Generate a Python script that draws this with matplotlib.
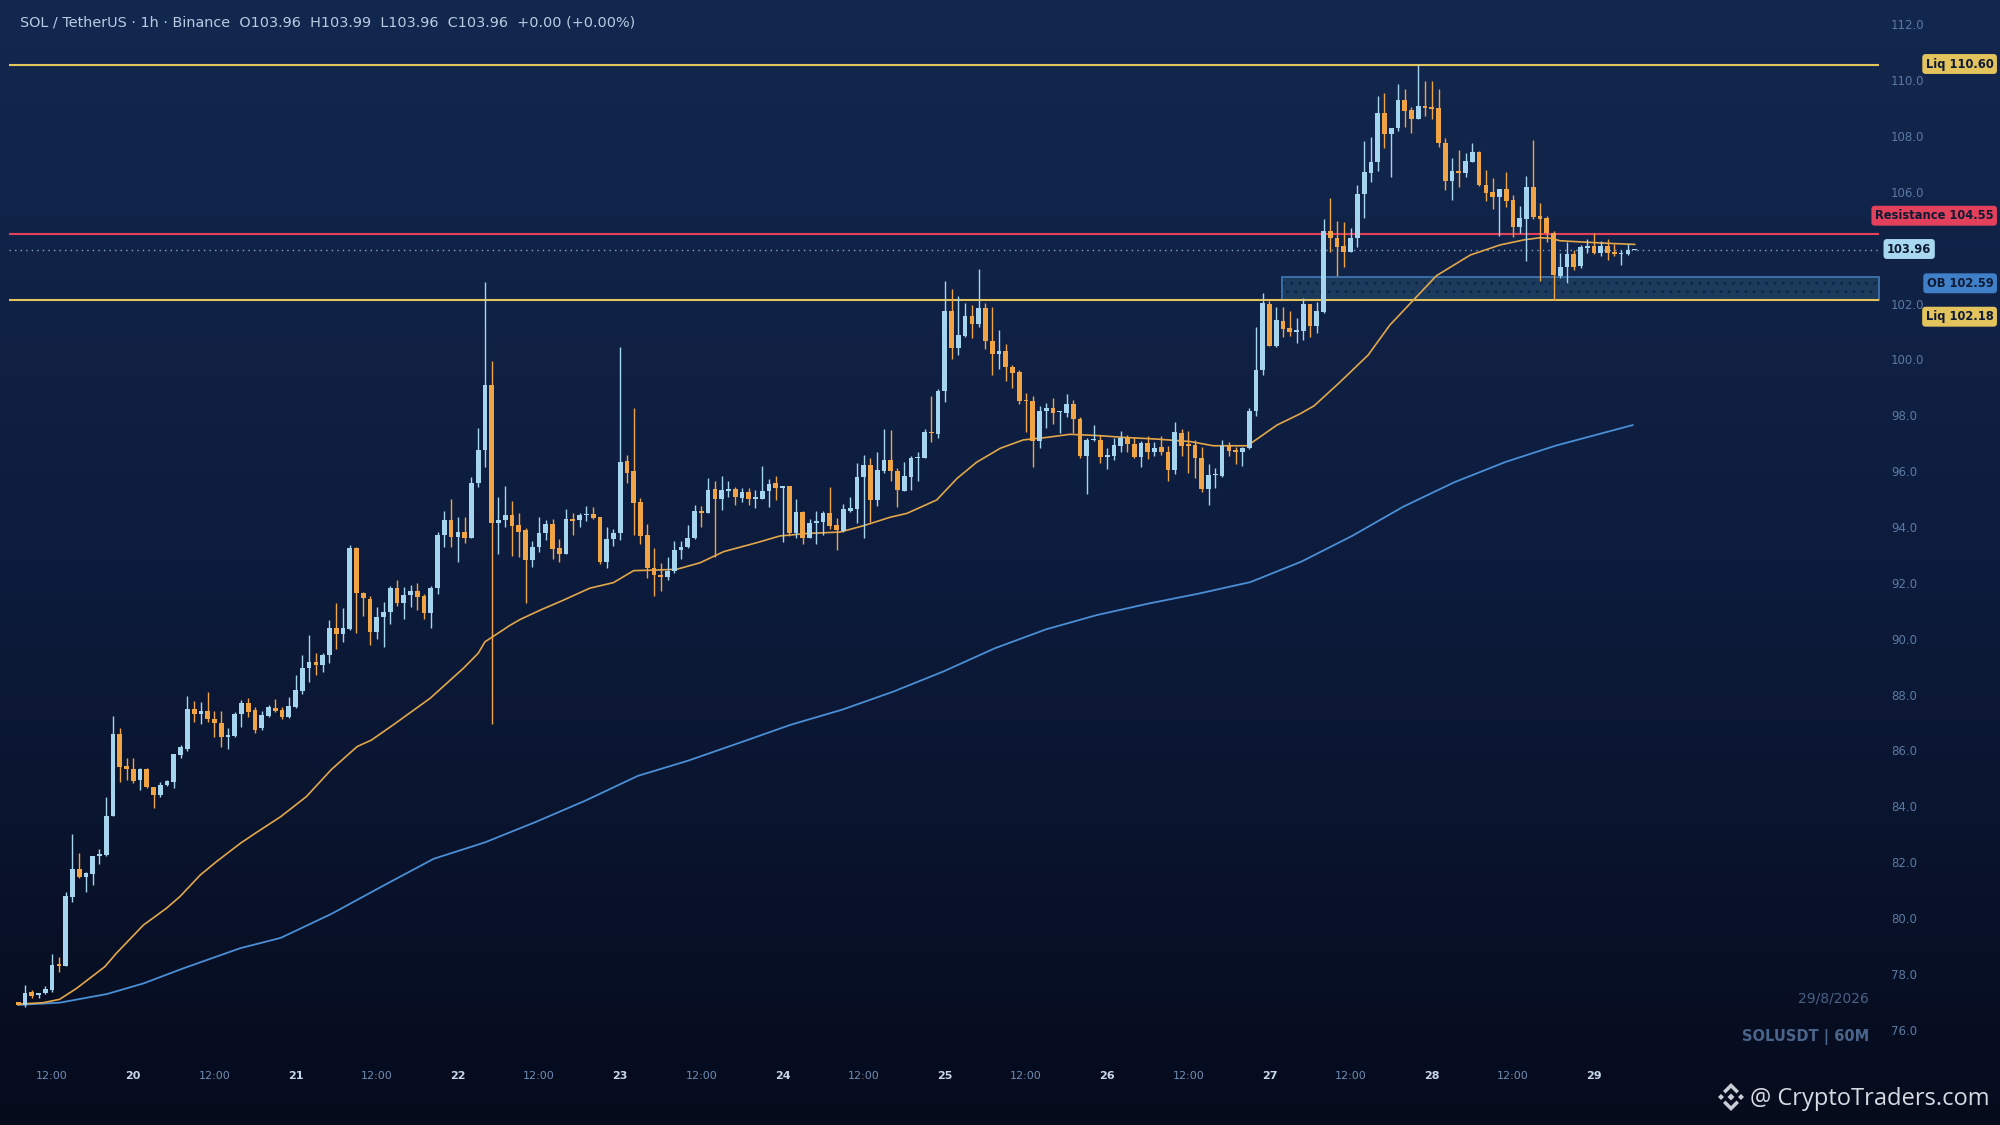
import matplotlib
matplotlib.use("Agg")
import matplotlib.pyplot as plt
from matplotlib.colors import LinearSegmentedColormap
from matplotlib.patches import Rectangle, Polygon
import numpy as np

# ---- data (hourly candles, 19th 07:00 -> 29th 06:00) ----
opens = [77.05, 76.94, 77.40, 77.29, 77.36, 77.48, 78.41, 78.35, 80.82, 81.79,
         81.53, 81.61, 82.27, 82.32, 83.70, 86.64, 85.49, 85.37, 84.99, 85.37,
         84.75, 84.45, 84.81, 84.93, 85.90, 86.12, 87.53, 87.34, 87.46, 87.17,
         87.05, 86.54, 86.58, 87.35, 87.74, 87.50, 86.84, 87.28, 87.56, 87.50,
         87.24, 87.62, 88.19, 88.99, 89.23, 89.11, 89.47, 90.42, 90.22, 90.40,
         93.29, 91.68, 91.46, 90.30, 90.84, 91.02, 91.85, 91.34, 91.62, 91.77,
         91.58, 90.96, 91.85, 93.76, 94.30, 93.70, 93.88, 93.67, 95.64, 96.81,
         99.13, 94.20, 94.32, 94.48, 94.12, 93.94, 92.87, 93.32, 93.83, 94.16,
         93.29, 93.07, 94.33, 94.30, 94.48, 94.50, 94.40, 92.81, 93.61, 93.83,
         96.42, 96.06, 94.93, 93.77, 92.57, 92.33, 92.25, 92.49, 93.23, 93.32,
         93.65, 94.62, 94.56, 95.40, 95.05, 95.35, 95.41, 95.10, 95.29, 95.07,
         95.07, 95.35, 95.62, 95.44, 95.53, 93.85, 94.58, 93.65, 94.18, 94.24,
         94.54, 94.12, 93.91, 94.64, 94.68, 95.83, 96.27, 95.02, 96.07, 96.45,
         96.06, 95.34, 95.85, 96.53, 96.51, 97.44, 97.38, 98.93, 101.78, 100.47,
         100.90, 101.61, 101.31, 101.88, 100.72, 100.23, 100.36, 99.77, 99.59, 98.60,
         98.56, 97.13, 98.20, 98.32, 98.17, 98.15, 98.44, 97.91, 96.60, 97.17,
         97.17, 96.55, 96.60, 96.96, 97.23, 97.01, 96.57, 97.05, 96.75, 96.90,
         96.75, 96.09, 97.40, 97.02, 96.99, 96.51, 95.40, 95.91, 95.89, 96.95,
         96.81, 96.75, 96.87, 98.20, 99.67, 102.04, 100.54, 101.43, 101.16, 101.05,
         101.07, 102.02, 101.26, 101.76, 104.65, 104.39, 104.11, 103.91, 104.39, 105.98,
         106.71, 107.13, 108.86, 108.11, 108.33, 109.34, 108.98, 108.66, 109.13, 109.08,
         109.04, 107.79, 106.45, 106.80, 106.71, 107.13, 107.47, 106.30, 106.03, 105.88,
         106.14, 105.76, 104.81, 105.07, 106.24, 105.19, 105.10, 104.59, 103.04, 103.35,
         103.81, 103.40, 104.04, 104.11, 103.87, 104.11, 103.90, 103.81, 103.81, 103.96]
highs = [77.05, 77.65, 77.48, 77.37, 77.62, 78.75, 78.64, 80.97, 83.05, 82.37,
         81.71, 82.27, 82.51, 84.39, 87.29, 86.84, 85.77, 85.77, 85.41, 85.44,
         84.75, 84.93, 85.01, 85.92, 86.24, 88.00, 87.82, 87.79, 88.13, 87.47,
         87.47, 86.84, 87.44, 87.86, 87.92, 87.62, 87.47, 87.68, 87.88, 87.59,
         87.97, 88.75, 89.47, 90.18, 89.55, 89.53, 90.72, 91.32, 91.14, 93.41,
         93.32, 91.73, 91.58, 91.17, 91.38, 91.94, 92.17, 91.91, 91.97, 92.06,
         91.67, 91.94, 93.88, 94.63, 95.04, 94.42, 94.42, 95.85, 97.61, 102.83,
         100.00, 95.14, 95.52, 94.99, 94.56, 94.00, 93.56, 94.40, 94.30, 94.33,
         93.61, 94.68, 94.56, 94.56, 94.81, 94.78, 94.40, 94.04, 93.98, 100.50,
         96.63, 98.30, 95.08, 94.15, 93.31, 92.77, 92.99, 93.56, 93.56, 94.12,
         94.84, 94.82, 95.82, 95.70, 95.89, 95.71, 95.50, 95.46, 95.46, 95.38,
         96.25, 95.76, 95.89, 95.53, 95.53, 95.04, 94.64, 94.34, 94.62, 94.64,
         95.47, 94.36, 94.87, 95.14, 96.33, 96.63, 96.51, 96.72, 97.56, 97.52,
         96.15, 96.39, 96.60, 96.72, 97.55, 98.74, 98.98, 102.86, 102.57, 102.33,
         102.08, 102.00, 103.28, 102.06, 101.94, 101.10, 100.60, 99.85, 99.67, 98.84,
         98.74, 98.40, 98.48, 98.66, 98.20, 98.80, 98.60, 98.00, 97.23, 97.70,
         97.35, 96.89, 97.23, 97.50, 97.35, 97.29, 97.14, 97.32, 97.08, 97.32,
         96.95, 97.82, 97.56, 97.50, 97.17, 96.93, 96.30, 96.15, 97.17, 97.11,
         96.93, 96.93, 98.30, 101.22, 102.42, 102.16, 101.92, 101.94, 101.80, 101.52,
         102.26, 102.02, 102.10, 105.08, 105.84, 105.02, 104.98, 104.75, 106.30, 107.87,
         108.00, 109.49, 109.58, 108.33, 109.90, 109.72, 109.08, 110.59, 110.03, 110.03,
         109.72, 107.97, 107.27, 107.55, 107.43, 107.79, 107.51, 106.83, 106.56, 106.15,
         106.77, 105.94, 105.56, 106.63, 107.91, 105.66, 105.19, 104.66, 103.85, 104.27,
         103.97, 104.15, 104.35, 104.56, 104.30, 104.35, 104.17, 103.97, 104.17, 103.99]
lows = [76.93, 76.85, 77.18, 77.18, 77.32, 77.39, 78.13, 78.35, 80.64, 81.50,
        80.97, 81.23, 81.98, 82.27, 83.70, 84.91, 85.01, 84.87, 84.63, 84.69,
        83.98, 84.39, 84.78, 84.69, 85.77, 86.04, 87.08, 86.99, 87.08, 86.52,
        86.16, 86.12, 86.54, 86.90, 87.26, 86.66, 86.80, 87.24, 87.44, 87.16,
        87.20, 87.56, 88.09, 88.51, 88.75, 88.87, 89.17, 89.70, 89.94, 90.36,
        90.27, 90.86, 89.82, 90.03, 89.77, 90.58, 91.22, 90.74, 91.20, 91.08,
        90.74, 90.42, 91.67, 93.35, 93.35, 92.81, 93.47, 93.64, 95.49, 96.19,
        86.99, 93.08, 94.06, 93.01, 92.99, 91.34, 92.61, 93.17, 93.59, 92.89,
        92.81, 93.07, 93.77, 94.04, 94.28, 94.33, 92.73, 92.57, 93.37, 93.59,
        95.64, 93.77, 93.44, 92.21, 91.58, 91.77, 92.15, 92.39, 92.89, 93.29,
        93.61, 94.06, 94.56, 92.99, 94.66, 95.14, 94.83, 94.93, 94.83, 94.72,
        95.07, 94.76, 95.02, 93.53, 93.73, 93.65, 93.44, 93.65, 93.44, 93.77,
        93.97, 93.23, 93.88, 94.58, 94.21, 93.64, 94.24, 94.80, 95.97, 95.71,
        94.78, 95.34, 95.38, 95.70, 96.51, 97.11, 97.25, 98.54, 100.07, 100.21,
        100.84, 100.81, 101.22, 100.41, 99.49, 99.71, 99.28, 99.04, 98.44, 97.47,
        96.19, 96.87, 97.58, 97.73, 97.40, 98.00, 97.40, 96.53, 95.22, 97.13,
        96.35, 96.12, 96.45, 96.73, 96.75, 96.51, 96.19, 96.47, 96.59, 96.63,
        95.71, 95.94, 96.60, 95.99, 95.79, 95.32, 94.84, 95.44, 95.83, 96.59,
        96.31, 96.23, 96.83, 98.03, 99.49, 100.54, 100.48, 100.84, 100.89, 100.65,
        100.75, 100.87, 100.99, 101.70, 103.89, 103.05, 103.35, 103.89, 104.09, 105.13,
        106.39, 106.80, 107.61, 106.59, 108.23, 108.38, 108.15, 108.66, 108.78, 108.66,
        107.67, 106.12, 105.76, 106.21, 106.57, 107.13, 106.27, 105.72, 105.44, 104.48,
        105.50, 104.42, 104.57, 103.58, 105.07, 102.86, 104.27, 102.18, 102.95, 102.78,
        103.25, 103.34, 103.87, 103.83, 103.75, 103.61, 103.75, 103.43, 103.79, 103.96]
closes = [76.95, 77.36, 77.27, 77.36, 77.51, 78.37, 78.33, 80.84, 81.79, 81.53,
          81.65, 82.27, 82.34, 83.70, 86.64, 85.47, 85.37, 84.97, 85.37, 84.73,
          84.45, 84.80, 84.96, 85.92, 86.18, 87.53, 87.34, 87.46, 87.16, 87.04,
          86.54, 86.60, 87.35, 87.74, 87.44, 86.80, 87.32, 87.62, 87.47, 87.24,
          87.64, 88.21, 88.99, 89.23, 89.11, 89.47, 90.42, 90.22, 90.42, 93.29,
          91.68, 91.50, 90.30, 90.84, 91.02, 91.85, 91.34, 91.62, 91.77, 91.56,
          90.96, 91.85, 93.76, 94.30, 93.70, 93.88, 93.67, 95.64, 96.81, 99.13,
          94.20, 94.32, 94.48, 94.10, 93.88, 92.87, 93.32, 93.83, 94.16, 93.25,
          93.07, 94.33, 94.28, 94.48, 94.52, 94.39, 92.81, 93.61, 93.83, 96.37,
          96.00, 94.92, 93.74, 92.57, 92.33, 92.25, 92.49, 93.23, 93.32, 93.65,
          94.62, 94.56, 95.38, 95.05, 95.38, 95.41, 95.11, 95.29, 95.06, 95.11,
          95.34, 95.59, 95.44, 95.53, 93.85, 94.58, 93.65, 94.18, 94.27, 94.54,
          94.10, 93.94, 94.68, 94.72, 95.83, 96.27, 95.02, 96.09, 96.45, 96.06,
          95.38, 95.88, 96.53, 96.54, 97.44, 97.40, 98.93, 101.78, 100.47, 100.93,
          101.61, 101.31, 101.88, 100.72, 100.23, 100.36, 99.79, 99.58, 98.57, 98.56,
          97.13, 98.20, 98.32, 98.15, 98.20, 98.44, 97.91, 96.59, 97.17, 97.20,
          96.55, 96.63, 96.99, 97.23, 97.01, 96.57, 97.05, 96.75, 96.87, 96.75,
          96.09, 97.44, 96.96, 96.96, 96.51, 95.41, 95.91, 95.95, 96.95, 96.78,
          96.75, 96.87, 98.20, 99.67, 102.06, 100.54, 101.46, 101.14, 101.05, 101.10,
          102.02, 101.26, 101.79, 104.65, 104.39, 104.09, 103.91, 104.39, 105.98, 106.75,
          107.11, 108.86, 108.11, 108.33, 109.34, 108.96, 108.66, 109.13, 109.07, 109.02,
          107.79, 106.45, 106.80, 106.72, 107.16, 107.47, 106.30, 106.00, 105.88, 106.15,
          105.74, 104.81, 105.10, 106.21, 105.16, 105.09, 104.59, 103.07, 103.35, 103.81,
          103.37, 104.06, 104.11, 103.87, 104.11, 103.87, 103.81, 103.87, 103.97, 103.96]

# moving averages (candle index, price)
ma_fast_x = [0, 3.7, 6.1, 8.6, 12.8, 14.5, 18.5, 21.9, 23.9, 26.9, 29.3, 32.8, 35, 38.8,
             42.6, 46.3, 50.1, 52.2, 55.4, 60.9, 65.8, 68.0, 69.0, 72.7, 74.2, 77.4,
             80.3, 84.5, 88.0, 91.0, 94.4, 97.4, 100.8, 104.3, 109.2, 112.6, 116.6,
             121.5, 125.0, 128.9, 131.4, 135.8, 138.8, 141.7, 145.2, 148.6, 152.1,
             155.5, 160.0, 163.4, 168.3, 173.3, 176.7, 181.7, 183.1, 186.1, 189.5,
             191.6, 195.3, 199.6, 202.8, 206.3, 209.7, 214.7, 219.1, 222.6, 225.0,
             226.5, 228.0, 231.0, 234.9, 239.0]
ma_fast_y = [76.97, 77.02, 77.14, 77.53, 78.31, 78.79, 79.80, 80.40, 80.82, 81.59, 82.07,
             82.72, 83.08, 83.68, 84.40, 85.37, 86.19, 86.42, 86.96, 87.92, 88.99, 89.53,
             89.94, 90.53, 90.74, 91.10, 91.40, 91.86, 92.06, 92.49, 92.51, 92.54, 92.77,
             93.17, 93.49, 93.73, 93.82, 93.87, 94.10, 94.40, 94.54, 95.02, 95.79, 96.37,
             96.87, 97.17, 97.26, 97.37, 97.32, 97.26, 97.20, 97.11, 96.96, 96.96, 97.19,
             97.70, 98.10, 98.39, 99.21, 100.21, 101.28, 102.18, 103.05, 103.79, 104.15,
             104.33, 104.41, 104.39, 104.30, 104.26, 104.21, 104.17]
ma_slow_x = [0, 6.1, 13.1, 18.5, 24.4, 32.8, 38.8, 46.3, 53.9, 61.4, 69.0, 76.5, 84.0,
             91.6, 99.1, 106.7, 114.2, 121.8, 129.3, 136.8, 144.4, 152.0, 159.5, 167.1,
             174.6, 182.2, 189.7, 197.2, 204.8, 212.3, 219.9, 227.4, 238.7]
ma_slow_y = [76.94, 77.02, 77.33, 77.71, 78.25, 78.97, 79.34, 80.20, 81.20, 82.17, 82.76,
             83.49, 84.27, 85.14, 85.69, 86.33, 86.97, 87.51, 88.15, 88.88, 89.71, 90.39,
             90.90, 91.31, 91.67, 92.08, 92.81, 93.73, 94.78, 95.65, 96.38, 96.97, 97.70]

liq_high = 110.60
resistance = 104.55
last_price = 103.96
ob_low, ob_high, ob_mid = 102.18, 103.00, 102.59
liq_low = 102.18
ob_start = 186.9

# 104.0 sits under the last-price tag in the reference, so it is not drawn
y_ticks = [v for v in range(76, 113, 2) if v != 104]
x_tick_pos = [5, 17, 29, 41, 53, 65, 77, 89, 101, 113, 125, 137, 149, 161, 173, 185, 197, 209, 221, 233]
x_tick_lab = ['12:00', '20', '12:00', '21', '12:00', '22', '12:00', '23', '12:00', '24',
              '12:00', '25', '12:00', '26', '12:00', '27', '12:00', '28', '12:00', '29']

# ---- pixel helpers (figure is 2000x1125 px) ----
W, H = 2000, 1125
UP, DOWN = '#a4d4ee', '#f0a443'


def px_x(px):
    return (px - 18.3) / 6.763


def px_y(py):
    return 112 - (py - 25.7) / 27.93


def fig_xy(px, py):
    return px / W, 1 - py / H


fig = plt.figure(figsize=(20, 11.25), dpi=100)

# background gradient
bg = fig.add_axes([0, 0, 1, 1], zorder=0)
cmap = LinearSegmentedColormap.from_list('bg', ['#13284f', '#0d1c3d', '#060b1c'])
bg.imshow(np.linspace(0, 1, 256)[:, None], aspect='auto', cmap=cmap, extent=[0, 1, 0, 1])
bg.set_axis_off()

ax = fig.add_axes([0, 0, 1, 1], zorder=1)
ax.patch.set_alpha(0)
ax.set_xlim(px_x(0), px_x(W))
ax.set_ylim(px_y(H), px_y(0))
ax.set_axis_off()

x_left, x_right = px_x(9), px_x(1879)

# order block zone
ax.add_patch(Rectangle((ob_start, ob_low), x_right - ob_start, ob_high - ob_low,
                       facecolor='#1c3a5c', edgecolor='none', zorder=1))
plt.rcParams['hatch.linewidth'] = 0.8
ax.add_patch(Rectangle((ob_start, ob_low), x_right - ob_start, ob_high - ob_low,
                       facecolor='none', edgecolor='#0f2543', hatch='..', lw=0, zorder=1.1))
ax.add_patch(Rectangle((ob_start, ob_low), x_right - ob_start, ob_high - ob_low,
                       facecolor='none', edgecolor='#3d74ad', lw=1.3, zorder=1.2))

# level lines
ax.hlines(liq_high, x_left, x_right, color='#e2c35c', lw=1.5, zorder=2)
ax.hlines(liq_low, x_left, x_right, color='#e2c35c', lw=1.5, zorder=2)
ax.hlines(resistance, x_left, x_right, color='#e3405c', lw=1.5, zorder=2)
ax.hlines(last_price, x_left, x_right, color='#7fa6cc', lw=1.0, linestyles=(0, (1, 3)), zorder=2)

# moving averages
ax.plot(ma_slow_x, ma_slow_y, color='#4a8fd6', lw=1.3, zorder=2.5)
ax.plot(ma_fast_x, ma_fast_y, color='#e3a74a', lw=1.2, zorder=2.5)

# candles
idx = np.arange(len(opens))
o, h, l, c = map(np.array, (opens, highs, lows, closes))
cols = np.where(c >= o, UP, DOWN)
ax.vlines(idx, l, h, colors=cols, lw=1.0, zorder=3)
bottoms = np.minimum(o, c)
heights = np.maximum(np.abs(c - o), 0.04)
ax.bar(idx, heights, bottom=bottoms, width=0.7, color=cols, edgecolor='none', zorder=3.1)

# price axis labels
for v in y_ticks:
    ax.text(px_x(1891), v, f'{v:.1f}', ha='left', va='center', fontsize=8.5, color='#5b7aa3')

# time axis labels
y_lab = px_y(1075.7)
for pos, lab in zip(x_tick_pos, x_tick_lab):
    day = lab != '12:00'
    ax.text(pos, y_lab, lab, ha='center', va='center', fontsize=8,
            color='#c8d7eb' if day else '#6e8cb4', fontweight='bold' if day else 'normal')

# right-side level tags
tag_kw = dict(fontsize=8.3, fontweight='bold', color='#0e1a33', va='center', zorder=5)
ax.text(px_x(1993.5), px_y(64), f'Liq {liq_high:.2f}', ha='right',
        bbox=dict(boxstyle='round,pad=0.3', fc='#e2c35c', ec='none'), **tag_kw)
ax.text(px_x(1993.5), px_y(215.7), f'Resistance {resistance:.2f}', ha='right',
        bbox=dict(boxstyle='round,pad=0.3', fc='#e3405c', ec='none'), **tag_kw)
ax.text(px_x(1887), px_y(249), f'{last_price:.2f}', ha='left',
        bbox=dict(boxstyle='round,pad=0.3', fc='#a8d8f0', ec='none'), **tag_kw)
ax.text(px_x(1993.5), px_y(283.3), f'OB {ob_mid:.2f}', ha='right',
        bbox=dict(boxstyle='round,pad=0.3', fc='#3f80c8', ec='none'), **tag_kw)
ax.text(px_x(1993.5), px_y(316.7), f'Liq {liq_low:.2f}', ha='right',
        bbox=dict(boxstyle='round,pad=0.3', fc='#e2c35c', ec='none'), **tag_kw)

# header
fig.text(*fig_xy(20, 23), 'SOL / TetherUS · 1h · Binance  O103.96  H103.99  L103.96  C103.96  +0.00 (+0.00%)',
         ha='left', va='center', fontsize=10.4, color='#b9cbe3', zorder=6)

# bottom-right stamps
fig.text(*fig_xy(1869, 999), '29/8/2026', ha='right', va='center', fontsize=10,
         color='#4a6184', zorder=6)
fig.text(*fig_xy(1869, 1036.7), 'SOLUSDT | 60M', ha='right', va='center', fontsize=10.5,
         fontweight='bold', color='#4b6489', zorder=6)
fig.text(*fig_xy(1750, 1099), '@ CryptoTraders.com', ha='left', va='center', fontsize=17,
         family=['Open Sans', 'DejaVu Sans'], color='#d5dae3', zorder=6)

# small diamond logo
cx, cy = 1731, 1097
logo_shapes = [
    [(-8, 6), (0, 14), (8, 6), (5.5, 3.5), (0, 9), (-5.5, 3.5)],
    [(-8, -6), (0, -14), (8, -6), (5.5, -3.5), (0, -9), (-5.5, -3.5)],
    [(0, 3.5), (3.5, 0), (0, -3.5), (-3.5, 0)],
    [(-10, 3), (-7, 0), (-10, -3), (-13, 0)],
    [(10, 3), (13, 0), (10, -3), (7, 0)],
]
for shape in logo_shapes:
    pts = [fig_xy(cx + dx, cy - dy) for dx, dy in shape]
    fig.patches.append(Polygon(pts, closed=True, transform=fig.transFigure,
                               facecolor='#c9ced6', edgecolor='none', zorder=6))

fig.savefig('out.png', dpi=100)
